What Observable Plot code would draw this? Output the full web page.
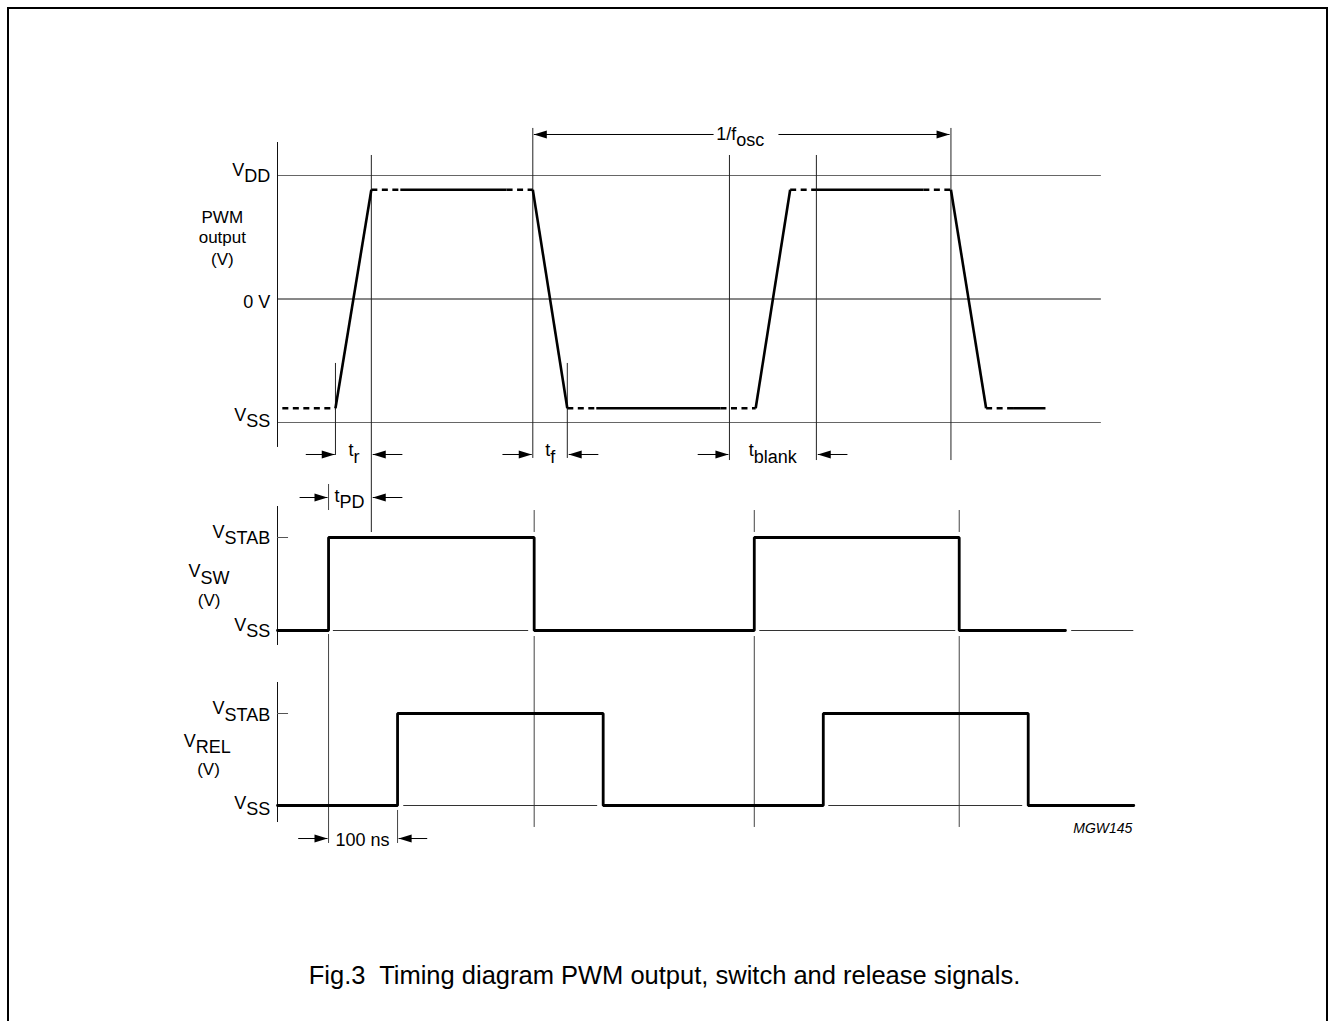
<!DOCTYPE html>
<html><head><meta charset="utf-8">
<script src="https://cdn.jsdelivr.net/npm/d3@7"></script>
<script src="https://cdn.jsdelivr.net/npm/@observablehq/plot@0.6"></script>
<style>
html,body{margin:0;padding:0;background:#fff;overflow:hidden;}
#wrap{position:relative;width:1329px;height:1021px;font-family:"Liberation Sans",Arial,Helvetica,sans-serif;}
#wrap svg{position:absolute;left:0;top:0;overflow:visible;background:transparent;}
#frame{position:absolute;left:7px;top:7px;width:1321px;height:1100px;border:2px solid #000;box-sizing:border-box;}
#caption{position:absolute;left:0;width:1329px;top:961px;text-align:center;font-size:25.5px;color:#000;white-space:pre;}
</style></head><body>
<div id="wrap"><div id="frame"></div><div id="caption">Fig.3  Timing diagram PWM output, switch and release signals.</div></div>
<script>
// ---- data (time in ns, levels normalised) ----
const pwmTime  = [7, 84, 136, 178, 332, 370, 420, 462, 642, 693, 743, 781, 936, 976, 1027, 1066, 1113];
const pwmLevel = [-0.885, -0.885, 0.885, 0.885, 0.885, 0.885, -0.885, -0.885, -0.885, -0.885, 0.885, 0.885, 0.885, 0.885, -0.885, -0.885, -0.885];
// segments between successive points alternate: dashed, solid, dashed, ...
const vswEdges  = [74, 372, 691, 988];   // rise, fall, rise, fall
const vswEnd    = 1142;
const vrelEdges = [174, 472, 791, 1088];
const vrelEnd   = 1241;
const pwmLevels = [{name: "V_DD", v: 1}, {name: "0 V", v: 0}, {name: "V_SS", v: -1}];
const levelEnd = 1194;

const FONT = '"Liberation Sans", Arial, Helvetica, sans-serif';
const X = {domain: [0, 1000], range: [277, 967], axis: null};

const arrowR = {draw(c) { c.moveTo(0, 0); c.lineTo(-13, -4); c.lineTo(-13, 4); c.closePath(); }};
const arrowL = {draw(c) { c.moveTo(0, 0); c.lineTo(13, -4); c.lineTo(13, 4); c.closePath(); }};

function arrowMarks(arrows) {
  return [
    Plot.link(arrows, {x1: "from", x2: "tip", y1: "v", y2: "v", stroke: "#000", strokeWidth: 1}),
    Plot.dot(arrows.filter(d => d.dir === "R"), {x: "tip", y: "v", symbol: arrowR, fill: "#000", stroke: "none", r: 4}),
    Plot.dot(arrows.filter(d => d.dir === "L"), {x: "tip", y: "v", symbol: arrowL, fill: "#000", stroke: "none", r: 4})
  ];
}
function labels(data, opts) {
  return Plot.text(data, {x: "t", y: "v", text: "s", lineAnchor: "bottom", fill: "#000", fontSize: 18, ...opts});
}
function stepData(edges, end) {
  const pts = [{t: 0, v: 0}];
  edges.forEach((t, i) => pts.push({t, v: i % 2 === 0 ? 1 : 0}));
  pts.push({t: end, v: 0});
  return pts;
}
function subscripts(svg) {
  svg.querySelectorAll("text").forEach(t => {
    const s = t.textContent;
    if (s.includes("_")) {
      const [a, b] = s.split("_");
      t.textContent = a;
      const ts = document.createElementNS("http://www.w3.org/2000/svg", "tspan");
      ts.setAttribute("dy", "0.38em");
      ts.textContent = b;
      t.appendChild(ts);
    }
  });
  return svg;
}
const base = {width: 1329, height: 1021, margin: 0, x: X,
  style: {overflow: "visible", background: "transparent", fontFamily: FONT}};

// ---- PWM output panel ----
const pwmSegs = pwmTime.slice(0, -1).map((t, i) => ({t1: t, t2: pwmTime[i + 1], v1: pwmLevel[i], v2: pwmLevel[i + 1], dashed: i % 2 === 0}));
const pwmMarkers = [
  {t: 84, v1: -0.522, v2: -1.267}, {t: 136, v1: 1.162, v2: -1.891}, {t: 370, v1: 1.381, v2: -1.291},
  {t: 420, v1: -0.522, v2: -1.291}, {t: 655, v1: 1.162, v2: -1.308}, {t: 781, v1: 1.162, v2: -1.308},
  {t: 976, v1: 1.381, v2: -1.308}
];
const pwmArrows = [
  {from: 41, tip: 83, v: -1.259, dir: "R"}, {from: 181, tip: 138, v: -1.259, dir: "L"},
  {from: 326, tip: 368.5, v: -1.259, dir: "R"}, {from: 465, tip: 422, v: -1.259, dir: "L"},
  {from: 609, tip: 653.5, v: -1.259, dir: "R"}, {from: 826, tip: 783, v: -1.259, dir: "L"},
  {from: 632, tip: 371.5, v: 1.332, dir: "L"}, {from: 726, tip: 974, v: 1.332, dir: "R"}
];
const pwm = Plot.plot({...base,
  y: {domain: [-1, 1], range: [422, 175], axis: null},
  marks: [
    Plot.ruleY(pwmLevels.filter(d => d.v !== 0), {y: "v", x1: 0, x2: levelEnd, stroke: "#666", strokeWidth: 1}),
    Plot.ruleY(pwmLevels.filter(d => d.v === 0), {y: "v", x1: 0, x2: levelEnd, stroke: "#111", strokeWidth: 1}),
    Plot.ruleX([0], {x: d => d, y1: 1.267, y2: -1.202, stroke: "#111", strokeWidth: 1}),
    Plot.ruleX(pwmMarkers, {x: "t", y1: "v1", y2: "v2", stroke: "#222", strokeWidth: 1}),
    Plot.link(pwmSegs.filter(d => d.dashed), {x1: "t1", x2: "t2", y1: "v1", y2: "v2", stroke: "#000", strokeWidth: 2.6, strokeDasharray: "6,4.5"}),
    Plot.link(pwmSegs.filter(d => !d.dashed), {x1: "t1", x2: "t2", y1: "v1", y2: "v2", stroke: "#000", strokeWidth: 2.6}),
    ...arrowMarks(pwmArrows),
    labels([{t: -10.5, v: 1, s: "V_DD"}, {t: -10.5, v: -0.069, s: "0 V"}, {t: -10.5, v: -0.984, s: "V_SS"}], {textAnchor: "end"}),
    labels([{t: -80, v: 0.619, s: "PWM"}, {t: -80, v: 0.457, s: "output"}, {t: -80, v: 0.279, s: "(V)"}], {textAnchor: "middle", fontSize: 17}),
    labels([{t: 636, v: 1.291, s: "1/f_osc"}, {t: 103, v: -1.275, s: "t_r"}, {t: 388, v: -1.275, s: "t_f"}, {t: 683, v: -1.275, s: "t_blank"}], {textAnchor: "start"})
  ]
});

// ---- V_SW panel ----
const vswMarkers = [
  {t: 74, v1: 1.570, v2: 1.290}, {t: 74, v1: -0.043, v2: -2.29},
  ...vswEdges.slice(1).flatMap(t => [{t, v1: 1.290, v2: 1.054}, {t, v1: -0.065, v2: -2.118}])
];
const vswBase = [{t1: 81, t2: 364}, {t1: 699, t2: 983}, {t1: 1151, t2: 1241}];
const vsw = Plot.plot({...base,
  y: {domain: [0, 1], range: [630, 537], axis: null},
  marks: [
    Plot.ruleX([0], {x: d => d, y1: 1.333, y2: -0.161, stroke: "#111", strokeWidth: 1}),
    Plot.ruleY([1], {y: d => d, x1: 0, x2: 16, stroke: "#555", strokeWidth: 1}),
    Plot.ruleY(vswBase, {y: 0, x1: "t1", x2: "t2", stroke: "#333", strokeWidth: 1}),
    Plot.ruleX(vswMarkers, {x: "t", y1: "v1", y2: "v2", stroke: "#444", strokeWidth: 1}),
    Plot.line(stepData(vswEdges, vswEnd), {x: "t", y: "v", curve: "step-after", stroke: "#000", strokeWidth: 2.8, strokeLinejoin: "miter"}),
    ...arrowMarks([{from: 32, tip: 72.5, v: 1.430, dir: "R"}, {from: 181, tip: 138, v: 1.430, dir: "L"}]),
    labels([{t: -10.5, v: 1, s: "V_STAB"}, {t: -10.5, v: 0, s: "V_SS"}], {textAnchor: "end"}),
    labels([{t: -129, v: 0.57, s: "V_SW"}, {t: 82.6, v: 1.387, s: "t_PD"}], {textAnchor: "start"}),
    labels([{t: -99, v: 0.262, s: "(V)"}], {textAnchor: "middle", fontSize: 17})
  ]
});

// ---- V_REL panel ----
const vrelMarkers = [{t: 174, v1: -0.054, v2: -0.413}];
const vrelBase = [{t1: 183, t2: 464}, {t1: 799, t2: 1080}];
const vrel = Plot.plot({...base,
  y: {domain: [0, 1], range: [805, 713], axis: null},
  marks: [
    Plot.ruleX([0], {x: d => d, y1: 1.337, y2: -0.185, stroke: "#111", strokeWidth: 1}),
    Plot.ruleY([1], {y: d => d, x1: 0, x2: 16, stroke: "#555", strokeWidth: 1}),
    Plot.ruleY(vrelBase, {y: 0, x1: "t1", x2: "t2", stroke: "#333", strokeWidth: 1}),
    Plot.ruleX(vrelMarkers, {x: "t", y1: "v1", y2: "v2", stroke: "#444", strokeWidth: 1}),
    Plot.line(stepData(vrelEdges, vrelEnd), {x: "t", y: "v", curve: "step-after", stroke: "#000", strokeWidth: 2.8, strokeLinejoin: "miter"}),
    ...arrowMarks([{from: 30, tip: 72.5, v: -0.359, dir: "R"}, {from: 217, tip: 175.5, v: -0.359, dir: "L"}]),
    labels([{t: -10.5, v: 0.99, s: "V_STAB"}, {t: -10.5, v: -0.033, s: "V_SS"}], {textAnchor: "end"}),
    labels([{t: -136, v: 0.641, s: "V_REL"}, {t: 84, v: -0.435, s: "100 ns"}], {textAnchor: "start"}),
    labels([{t: -100, v: 0.33, s: "(V)"}], {textAnchor: "middle", fontSize: 17}),
    labels([{t: 1239, v: -0.304, s: "MGW145"}], {textAnchor: "end", fontSize: 14, fontStyle: "italic"})
  ]
});

const wrap = document.getElementById("wrap");
[pwm, vsw, vrel].forEach(svg => wrap.appendChild(subscripts(svg)));
</script>
</body></html>
